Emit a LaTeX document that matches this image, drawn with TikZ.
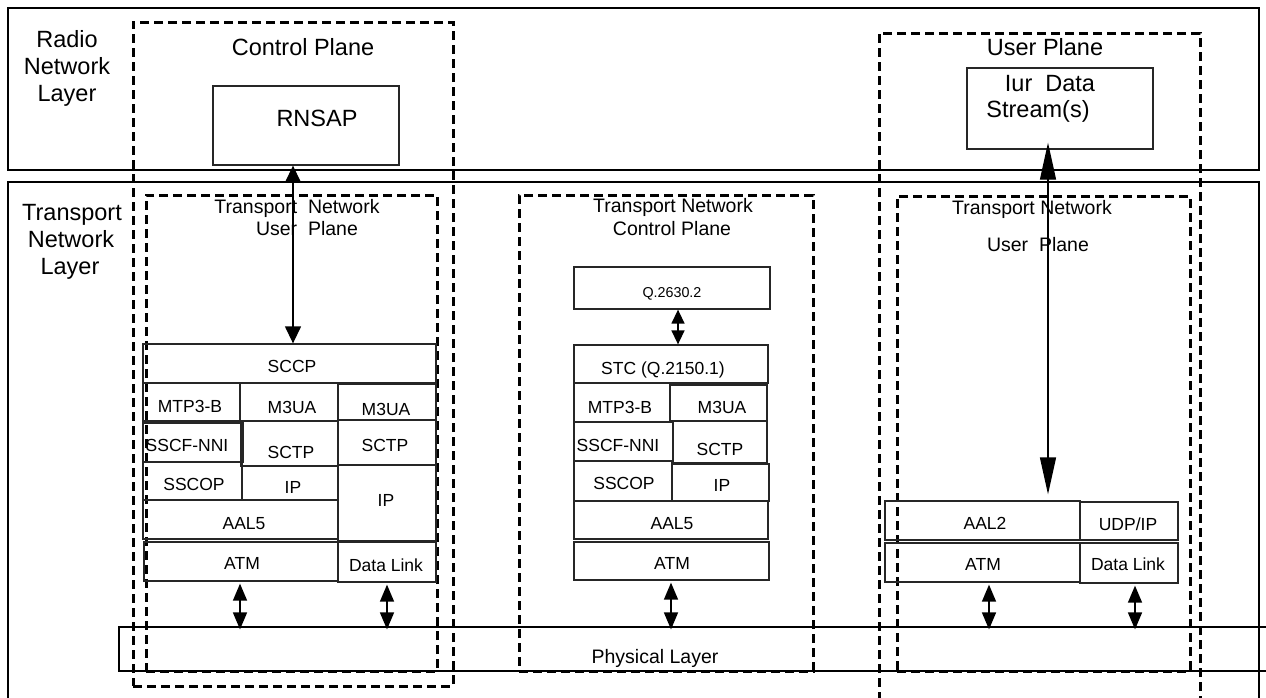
\documentclass[tikz,border=0pt]{standalone}
\usepackage{fontspec}
\setmainfont{Liberation Sans}
\usetikzlibrary{arrows.meta,fit}
\begin{document}
\begin{tikzpicture}[x=1pt,y=-1pt,
 layerbox/.style={draw, line width=2pt, inner sep=0pt},
 dashbox/.style={draw, line width=3pt, dash pattern=on 9pt off 5pt, inner sep=0pt},
 cell/.style={draw=black!85, line width=1.3pt, inner sep=0pt},
 physbox/.style={draw, line width=1.2pt, inner sep=0pt},
 big/.style={font=\fontsize{23.5}{28}\selectfont, text height=16.8pt, text depth=0pt, inner sep=0pt},
 mid/.style={font=\fontsize{19.5}{23}\selectfont, text height=14pt, text depth=0pt, inner sep=0pt},
 sm/.style={font=\fontsize{17.5}{21}\selectfont, text height=12.5pt, text depth=0pt, inner sep=0pt},
 tiny/.style={font=\fontsize{14.3}{17}\selectfont, text height=10.2pt, text depth=0pt, inner sep=0pt},
 bigarr/.style={{Triangle[length=17pt,width=16pt]}-{Triangle[length=17pt,width=16pt]}, line width=1.3pt},
 longarr/.style={{Triangle[length=37pt,width=16pt]}-{Triangle[length=37pt,width=16pt]}, line width=1.3pt},
 smarr/.style={{Triangle[length=17pt,width=14pt]}-{Triangle[length=17pt,width=14pt]}, line width=1.5pt},
 shortarr/.style={{Triangle[length=14pt,width=13pt]}-{Triangle[length=14pt,width=13pt]}, line width=1.5pt}
]
\useasboundingbox (0,0) rectangle (1266,697);
\clip (0,0) rectangle (1266,697);

% layers
\node[layerbox, fit={(8,8)(1259,170)}] (rnl) {};
\node[layerbox, fit={(8,182)(1259,720)}] (tnl) {};
\node[big] (rnl1) at (67,39.5) {Radio};
\node[big] (rnl2) at (67,66.5) {Network};
\node[big] (rnl3) at (67,93.5) {Layer};
\node[big] (tnl1) at (72,212) {Transport};
\node[big] (tnl2) at (71,239) {Network};
\node[big] (tnl3) at (70,266.5) {Layer};

% dashed planes
\node[dashbox, fit={(133,22)(453,686)}] (cp) {};
\node[dashbox, fit={(146,195)(437,671)}] (ltnup) {};
\node[dashbox, fit={(519,195)(813,671)}] (tncp) {};
\node[dashbox, fit={(879,33)(1200,720)}] (up) {};
\node[dashbox, fit={(897,196)(1190,671)}] (rtnup) {};

\node[big] (cptxt) at (303,47) {Control Plane};
\node[big] (uptxt) at (1045,47.5) {User Plane};
\node[mid] (ltn1) at (297,206) {Transport\ \ Network};
\node[mid] (ltn2) at (307,228.5) {User\ \ Plane};
\node[mid] (mtn1) at (673,205.5) {Transport Network};
\node[mid] (mtn2) at (672,228) {Control Plane};
\node[mid] (rtn1) at (1032,207.5) {Transport Network};
\node[mid] (rtn2) at (1038,244) {User\ \ Plane};

% physical layer
\node[physbox, fit={(119,627)(1290,671)}] (phys) {};
\node[mid] (phystxt) at (655,656) {Physical Layer};

% radio network layer boxes
\node[cell, fit={(213,86)(399,165)}] (rnsap) {};
\node[big] (rnsaptxt) at (317,118.5) {RNSAP};
\node[cell, fit={(967,68)(1153,149)}] (iur) {};
\node[big] (iur1) at (1050,83) {Iur\ \ Data};
\node[big] (iur2) at (1038,109.5) {Stream(s)};

% left stack
\node[cell, fit={(143,344)(436,383)}] (lsccp) {};
\node[cell, fit={(143,383)(240,421)}] (lmtp) {};
\node[cell, fit={(240,383)(338,421)}] (lm3ua) {};
\node[cell, fit={(338,384)(436,420)}] (lm3uab) {};
\node[cell, fit={(143,423)(243,462)}] (lsscf) {};
\node[cell, fit={(241,421)(338,466)}] (lsctp) {};
\node[cell, fit={(338,420)(436,465)}] (lsctpb) {};
\node[cell, fit={(143,462)(242,500)}] (lsscop) {};
\node[cell, fit={(242,466)(338,500)}] (lip) {};
\node[cell, fit={(338,465)(436,541)}] (lipb) {};
\node[cell, fit={(143,500)(338,539)}] (laal) {};
\node[cell, fit={(144,542)(338,581)}] (latm) {};
\node[cell, fit={(338,542)(436,582)}] (ldl) {};
\node[sm] at (292,366) {SCCP};
\node[sm] at (190,406) {MTP3-B};
\node[sm] at (292,407) {M3UA};
\node[sm] at (386,409) {M3UA};
\node[sm] at (187,445) {SSCF-NNI};
\node[sm] at (291,452) {SCTP};
\node[sm] at (385,445) {SCTP};
\node[sm] at (194,484) {SSCOP};
\node[sm] at (293,487) {IP};
\node[sm] at (386,500) {IP};
\node[sm] at (244,523) {AAL5};
\node[sm] at (242,563) {ATM};
\node[sm] at (386,565) {Data Link};

% middle stack
\node[cell, fit={(574,267)(770,309)}] (mq) {};
\node[cell, fit={(574,345)(768,383)}] (mstc) {};
\node[cell, fit={(574,383)(670,422)}] (mmtp) {};
\node[cell, fit={(670,385)(767,421)}] (mm3ua) {};
\node[cell, fit={(574,422)(673,461)}] (msscf) {};
\node[cell, fit={(673,421)(767,463)}] (msctp) {};
\node[cell, fit={(574,461)(672,501)}] (msscop) {};
\node[cell, fit={(672,464)(769,501)}] (mip) {};
\node[cell, fit={(574,501)(768,539)}] (maal) {};
\node[cell, fit={(574,542)(769,580)}] (matm) {};
\node[tiny] at (672,292) {Q.2630.2};
\node[sm] at (663,368) {STC (Q.2150.1)};
\node[sm] at (620,407) {MTP3-B};
\node[sm] at (722,407) {M3UA};
\node[sm] at (618,445) {SSCF-NNI};
\node[sm] at (720,449) {SCTP};
\node[sm] at (624,483) {SSCOP};
\node[sm] at (722,485) {IP};
\node[sm] at (672,523) {AAL5};
\node[sm] at (672,563) {ATM};

% right stack
\node[cell, fit={(885,501)(1080,540)}] (raal) {};
\node[cell, fit={(1080,502)(1178,540)}] (rudp) {};
\node[cell, fit={(885,543)(1080,582)}] (ratm) {};
\node[cell, fit={(1080,543)(1178,583)}] (rdl) {};
\node[sm] at (985,523) {AAL2};
\node[sm] at (1128,524) {UDP/IP};
\node[sm] at (983,564) {ATM};
\node[sm] at (1128,564) {Data Link};

% connectors
\coordinate (xa) at (293,0);
\coordinate (xb) at (1048,0);
\coordinate (xc) at (678,0);
\coordinate (xd) at (240,0);
\coordinate (xe) at (387,0);
\coordinate (xf) at (671,0);
\coordinate (xg) at (989,0);
\coordinate (xh) at (1135,0);
\draw[bigarr] (rnsap.south -| xa) -- (lsccp.north -| xa);
\draw[longarr, shorten <=-7pt, shorten >=6pt] (iur.south -| xb) -- (raal.north -| xb);
\draw[shortarr] (mq.south -| xc) -- (mstc.north -| xc);
\draw[smarr, shorten <=2pt, shorten >=-3pt] (latm.south -| xd) -- (phys.north -| xd);
\draw[smarr, shorten <=2pt, shorten >=-3pt] (ldl.south -| xe) -- (phys.north -| xe);
\draw[smarr, shorten <=2pt, shorten >=-3pt] (matm.south -| xf) -- (phys.north -| xf);
\draw[smarr, shorten <=2pt, shorten >=-3pt] (ratm.south -| xg) -- (phys.north -| xg);
\draw[smarr, shorten <=2pt, shorten >=-3pt] (rdl.south -| xh) -- (phys.north -| xh);
\end{tikzpicture}
\end{document}
